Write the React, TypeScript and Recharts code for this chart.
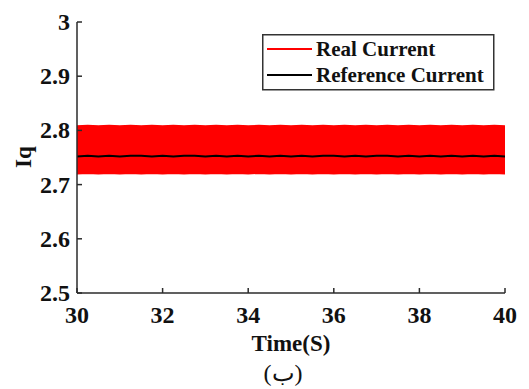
import React from "react";
import { ComposedChart, Area, Line, XAxis, YAxis, Label } from "recharts";

// Sample times (s)
const times = [
  30, 30.25, 30.5, 30.75, 31, 31.25, 31.5, 31.75, 32, 32.25, 32.5, 32.75, 33, 33.25,
  33.5, 33.75, 34, 34.25, 34.5, 34.75, 35, 35.25, 35.5, 35.75, 36, 36.25, 36.5, 36.75,
  37, 37.25, 37.5, 37.75, 38, 38.25, 38.5, 38.75, 39, 39.25, 39.5, 39.75, 40,
];

// Upper / lower envelope of the measured (real) q-axis current ripple
const realUpper = [
  2.808, 2.809, 2.808, 2.809, 2.808, 2.809, 2.808, 2.809, 2.808, 2.809, 2.808, 2.809,
  2.808, 2.809, 2.808, 2.809, 2.808, 2.809, 2.808, 2.809, 2.808, 2.809, 2.808, 2.809,
  2.808, 2.809, 2.808, 2.809, 2.808, 2.809, 2.808, 2.809, 2.808, 2.809, 2.808, 2.809,
  2.808, 2.809, 2.808, 2.809, 2.808,
];
const realLower = [
  2.72, 2.721, 2.72, 2.721, 2.72, 2.721, 2.72, 2.721, 2.72, 2.721, 2.72, 2.721,
  2.72, 2.721, 2.72, 2.721, 2.72, 2.721, 2.72, 2.721, 2.72, 2.721, 2.72, 2.721,
  2.72, 2.721, 2.72, 2.721, 2.72, 2.721, 2.72, 2.721, 2.72, 2.721, 2.72, 2.721,
  2.72, 2.721, 2.72, 2.721, 2.72,
];

// Reference q-axis current
const referenceCurrent = [
  2.752, 2.753, 2.752, 2.753, 2.752, 2.753, 2.753, 2.752, 2.753, 2.752, 2.753, 2.753,
  2.752, 2.753, 2.752, 2.753, 2.752, 2.753, 2.752, 2.753, 2.752, 2.753, 2.752, 2.753,
  2.753, 2.752, 2.753, 2.752, 2.753, 2.753, 2.752, 2.753, 2.752, 2.753, 2.752, 2.753,
  2.752, 2.753, 2.752, 2.753, 2.752,
];

const xTicks = [30, 32, 34, 36, 38, 40];
const yTicks = [2.5, 2.6, 2.7, 2.8, 2.9, 3];

const seriesNames = ["Real Current", "Reference Current"];
const seriesColors = ["#ff0000", "#000000"];

const data = times.map((t, i) => ({
  t,
  real: [realLower[i], realUpper[i]],
  ref: referenceCurrent[i],
}));

const FONT = "Liberation Serif, Times New Roman, serif";
const AXIS_COLOR = "#2b2b2b";
const textStyle: React.CSSProperties = { fontFamily: FONT, fontWeight: 700 };

const XTick = (props: any) => {
  const { x, y, payload } = props;
  return (
    <g>
      <line x1={x} y1={y} x2={x} y2={y - 5} stroke={AXIS_COLOR} strokeWidth={1.5} />
      <text x={x} y={y + 30} textAnchor="middle" style={textStyle} fontSize={24} fill="#111">
        {payload.value}
      </text>
    </g>
  );
};

const YTick = (props: any) => {
  const { x, y, payload } = props;
  return (
    <g>
      <line x1={x} y1={y} x2={x + 5} y2={y} stroke={AXIS_COLOR} strokeWidth={1.5} />
      <text x={x - 7} y={y + 8} textAnchor="end" style={textStyle} fontSize={24} fill="#111">
        {payload.value}
      </text>
    </g>
  );
};

const LegendBox = () => (
  <svg
    width={233}
    height={57}
    style={{ position: "absolute", left: 262, top: 34, display: "block" }}
  >
    <rect x={0.75} y={0.75} width={231} height={55} fill="#fff" stroke="#333" strokeWidth={1.5} />
    {seriesNames.map((name, i) => (
      <g key={name}>
        <line x1={5} y1={15 + i * 26} x2={50} y2={15 + i * 26} stroke={seriesColors[i]} strokeWidth={2} />
        <text x={54} y={22 + i * 26} style={textStyle} fontSize={21} fill="#111">
          {name}
        </text>
      </g>
    ))}
  </svg>
);

export default function App() {
  return (
    <div
      style={{
        position: "fixed",
        left: 0,
        top: 0,
        width: 529,
        height: 389,
        background: "#fff",
        overflow: "hidden",
      }}
    >
      <ComposedChart
        width={529}
        height={389}
        data={data}
        margin={{ top: 22, right: 24, left: 0, bottom: 0 }}
      >
        <XAxis
          dataKey="t"
          type="number"
          domain={[30, 40]}
          ticks={xTicks}
          height={96}
          tickSize={0}
          tickMargin={0}
          tickLine={false}
          tick={<XTick />}
          axisLine={{ stroke: AXIS_COLOR, strokeWidth: 1.5 }}
          interval={0}
          allowDataOverflow
        >
          <Label
            content={() => (
              <text x={291} y={351} textAnchor="middle" style={textStyle} fontSize={23} fill="#111">
                Time(S)
              </text>
            )}
          />
        </XAxis>
        <YAxis
          type="number"
          domain={[2.5, 3]}
          ticks={yTicks}
          width={77}
          tickSize={0}
          tickMargin={0}
          tickLine={false}
          tick={<YTick />}
          axisLine={{ stroke: AXIS_COLOR, strokeWidth: 1.5 }}
          interval={0}
          allowDataOverflow
        >
          <Label
            content={() => (
              <text
                x={31}
                y={157}
                textAnchor="middle"
                transform="rotate(-90 31 157)"
                style={textStyle}
                fontSize={23}
                fill="#111"
              >
                Iq
              </text>
            )}
          />
        </YAxis>
        <Area
          dataKey="real"
          name={seriesNames[0]}
          type="linear"
          stroke={seriesColors[0]}
          strokeWidth={1.5}
          fill={seriesColors[0]}
          fillOpacity={1}
          isAnimationActive={false}
          dot={false}
          activeDot={false}
        />
        <Line
          dataKey="ref"
          name={seriesNames[1]}
          type="linear"
          stroke={seriesColors[1]}
          strokeWidth={2}
          dot={false}
          activeDot={false}
          isAnimationActive={false}
        />
      </ComposedChart>
      <LegendBox />
      <div
        style={{
          position: "absolute",
          left: 0,
          width: 566,
          top: 358,
          textAlign: "center",
          fontFamily: FONT,
          fontSize: 24,
          color: "#111",
          lineHeight: "30px",
        }}
      >
        (ب)
      </div>
    </div>
  );
}
